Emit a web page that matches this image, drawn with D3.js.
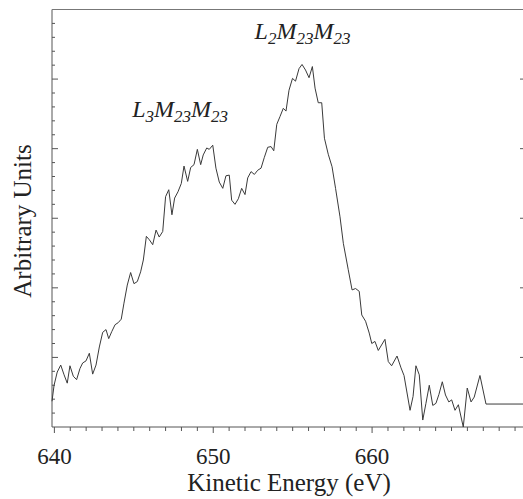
<html>
  <head>
    <meta charset="utf-8">
    <title>Auger spectrum</title>
    <script src="https://cdnjs.cloudflare.com/ajax/libs/d3/7.8.5/d3.min.js"></script>
    <style>
      body { margin: 0; background: #fff; }
      text { font-family: "Liberation Serif", "DejaVu Serif", serif; fill: #222; }
    </style>
  </head>
  <body>
    <div id="chart"></div>
<script>
  // spectrum: kinetic energy (eV) and intensity (arb. units)
  const energy = [
    639.85, 639.98, 640.18, 640.40, 640.61, 640.81, 640.98, 641.19, 641.40, 641.61,
    641.78, 641.99, 642.20, 642.41, 642.62, 642.83, 643.04, 643.25, 643.42, 643.61,
    643.82, 644.02, 644.21, 644.38, 644.59, 644.80, 645.01, 645.22, 645.43, 645.60,
    645.79, 645.98, 646.19, 646.40, 646.60, 646.82, 647.00, 647.20, 647.40, 647.57,
    647.78, 647.99, 648.16, 648.39, 648.58, 648.79, 649.00, 649.21, 649.37, 649.59,
    649.75, 649.97, 650.17, 650.38, 650.60, 650.80, 651.01, 651.16, 651.37, 651.58,
    651.79, 652.00, 652.17, 652.38, 652.59, 652.80, 653.01, 653.21, 653.43, 653.64,
    653.81, 654.00, 654.20, 654.41, 654.58, 654.77, 654.99, 655.18, 655.40, 655.59,
    655.81, 656.03, 656.24, 656.41, 656.61, 656.83, 657.00, 657.24, 657.48, 657.70,
    657.98, 658.19, 658.50, 658.74, 658.96, 659.19, 659.35, 659.59, 659.82, 659.98,
    660.18, 660.39, 660.81, 661.02, 661.23, 661.57, 661.82, 662.01, 662.39, 662.58,
    662.76, 662.97, 663.19, 663.39, 663.60, 663.82, 664.02, 664.21, 664.42, 664.62,
    664.83, 665.01, 665.22, 665.43, 665.74, 665.99, 666.23, 666.43, 666.79, 667.17,
    669.50
  ];
  const counts = [
    0.37, 0.60, 0.79, 0.89, 0.75, 0.63, 0.88, 0.73, 0.68, 0.84,
    0.92, 0.95, 1.06, 0.76, 0.89, 1.15, 1.36, 1.40, 1.27, 1.37,
    1.47, 1.50, 1.55, 1.78, 2.04, 2.22, 2.06, 2.09, 2.23, 2.40,
    2.74, 2.69, 2.62, 2.83, 2.73, 2.81, 3.31, 3.41, 3.05, 3.29,
    3.38, 3.50, 3.75, 3.53, 3.73, 3.77, 3.99, 3.77, 3.91, 4.01,
    3.99, 4.05, 3.72, 3.52, 3.43, 3.61, 3.62, 3.26, 3.20, 3.28,
    3.43, 3.34, 3.58, 3.67, 3.63, 3.69, 3.72, 3.87, 4.02, 4.03,
    3.97, 4.35, 4.46, 4.58, 4.54, 4.84, 5.01, 4.97, 5.15, 5.21,
    5.13, 5.02, 5.18, 4.87, 4.66, 4.66, 4.15, 3.92, 3.74, 3.43,
    3.02, 2.64, 2.26, 1.97, 1.99, 1.95, 1.61, 1.52, 1.35, 1.20,
    1.23, 1.10, 1.26, 0.94, 0.88, 1.02, 0.85, 0.74, 0.24, 0.44,
    0.88, 0.75, 0.10, 0.34, 0.60, 0.31, 0.34, 0.47, 0.65, 0.46,
    0.36, 0.39, 0.24, 0.32, 0.00, 0.56, 0.36, 0.43, 0.74, 0.33,
    0.33
  ];
  const xMajor = [640, 650, 660];
  const xMinor = d3.range(640, 670, 1);
  const yMajor = [1, 2, 3, 4, 5];
  const yMinor = d3.range(1, 30).map(i => i / 5);
  const peaks = [
    { x: 644.9, y: 4.45, parts: [["L", 0], ["3", 1], ["M", 0], ["23", 1], ["M", 0], ["23", 1]] },
    { x: 652.6, y: 5.58, parts: [["L", 0], ["2", 1], ["M", 0], ["23", 1], ["M", 0], ["23", 1]] }
  ];

  const W = 523, H = 499;
  const mLeft = 52, mRight = 523, mTop = 9.5, mBottom = 427;

  const svg = d3.select('#chart').append('svg')
    .attr('width', W)
    .attr('height', H);

  const x = d3.scaleLinear().domain([639.85, 669.5]).range([mLeft, mRight]);
  const y = d3.scaleLinear().domain([0, 6]).range([mBottom, mTop]);

  const axisColor = '#555';

  // frame: left, bottom, top
  svg.append('line').attr('x1', mLeft).attr('x2', mLeft).attr('y1', mTop).attr('y2', mBottom)
    .attr('stroke', axisColor);
  svg.append('line').attr('x1', mLeft).attr('x2', mRight).attr('y1', mBottom).attr('y2', mBottom)
    .attr('stroke', axisColor);
  svg.append('line').attr('x1', mLeft).attr('x2', mRight).attr('y1', mTop).attr('y2', mTop)
    .attr('stroke', '#777');

  // x ticks (pointing down)
  svg.append('g').selectAll('line').data(xMinor).join('line')
    .attr('x1', d => x(d)).attr('x2', d => x(d))
    .attr('y1', mBottom).attr('y2', d => mBottom + (xMajor.includes(d) ? 6 : 4))
    .attr('stroke', axisColor);

  svg.append('g').selectAll('text').data(xMajor).join('text')
    .attr('x', d => x(d))
    .attr('y', 464)
    .attr('text-anchor', 'middle')
    .style('font-size', '23px')
    .text(d => d);

  // y ticks (inward, no labels)
  svg.append('g').selectAll('line').data(yMinor).join('line')
    .attr('x1', mLeft).attr('x2', d => mLeft + (yMajor.includes(d) ? 6 : 3))
    .attr('y1', d => y(d)).attr('y2', d => y(d))
    .attr('stroke', axisColor);

  svg.append('g').selectAll('line').data(yMajor).join('line')
    .attr('x1', mRight - 3).attr('x2', mRight)
    .attr('y1', d => y(d)).attr('y2', d => y(d))
    .attr('stroke', axisColor);

  // spectrum
  const line = d3.line()
    .x((d, i) => x(energy[i]))
    .y(d => y(d));

  svg.append('path')
    .datum(counts)
    .attr('d', line)
    .attr('fill', 'none')
    .attr('stroke', '#3a3a3a')
    .attr('stroke-width', 1)
    .attr('stroke-linejoin', 'round');

  // peak labels with subscripts
  peaks.forEach(p => {
    const t = svg.append('text')
      .attr('x', x(p.x))
      .attr('y', y(p.y))
      .style('font-size', '24px')
      .style('font-style', 'italic');
    let prev = 0;
    p.parts.forEach(([s, sub]) => {
      t.append('tspan')
        .attr('dy', (sub - prev) * 5)
        .style('font-size', sub ? '17px' : '24px')
        .text(s);
      prev = sub;
    });
  });

  // axis titles
  svg.append('text')
    .attr('x', 289)
    .attr('y', 491)
    .attr('text-anchor', 'middle')
    .style('font-size', '25px')
    .text('Kinetic Energy (eV)');

  svg.append('text')
    .attr('transform', `translate(31, 221) rotate(-90)`)
    .attr('text-anchor', 'middle')
    .style('font-size', '25px')
    .text('Arbitrary Units');
</script>
  </body>
</html>
